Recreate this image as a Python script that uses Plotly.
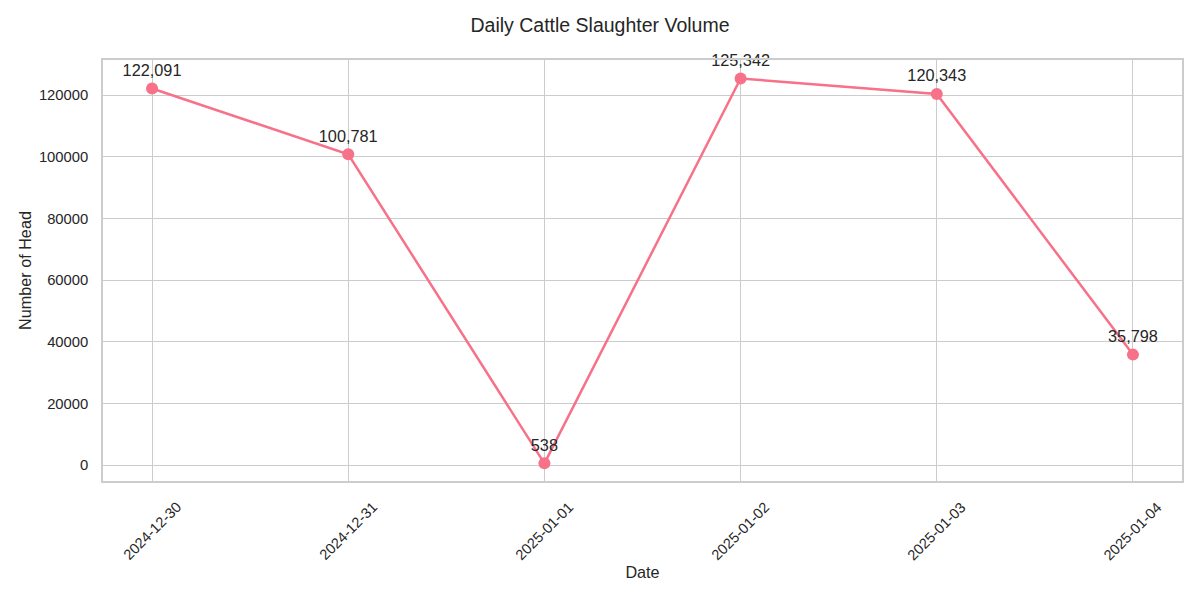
import plotly.graph_objects as go

dates = ["2024-12-30", "2024-12-31", "2025-01-01", "2025-01-02", "2025-01-03", "2025-01-04"]
head_counts = [122091, 100781, 538, 125342, 120343, 35798]
y_ticks = [0, 20000, 40000, 60000, 80000, 100000, 120000]

line_color = "#f77189"
grid = "#cccccc"
text_color = "#262626"
font_family = "Liberation Sans, Arial, sans-serif"

fig = go.Figure()
fig.add_trace(go.Scatter(
    x=dates, y=head_counts,
    mode="lines+markers+text",
    line=dict(color=line_color, width=2.5),
    marker=dict(color=line_color, size=12),
    texttemplate="%{y:,}",
    textposition="top center",
    textfont=dict(size=16.3, color=text_color, family=font_family),
    cliponaxis=False,
    showlegend=False,
))

# rotated date labels, centred under each tick (matplotlib style)
for d in dates:
    fig.add_annotation(
        x=d, y=0, xref="x", yref="paper",
        text=d, textangle=-45, showarrow=False,
        xanchor="center", yanchor="top", yshift=-15,
        font=dict(size=14.6, color=text_color, family=font_family),
    )

fig.update_layout(
    width=1200, height=600,
    paper_bgcolor="white", plot_bgcolor="white",
    margin=dict(l=103, r=18, t=60, b=119, autoexpand=False),
    font=dict(family=font_family, color=text_color, size=14),
    title=dict(text="Daily Cattle Slaughter Volume", x=0.5, xanchor="center",
               y=1 - 25 / 600, yanchor="middle", font=dict(size=19.5, color=text_color)),
)
fig.update_xaxes(
    type="date", range=["2024-12-29 18:00", "2025-01-04 06:00"],
    tickvals=dates, showticklabels=False, automargin=False,
    showgrid=True, gridcolor=grid, gridwidth=1,
    showline=True, linecolor=grid, linewidth=1.5, mirror=True,
    zeroline=False, ticks="",
    title=dict(text="Date", font=dict(size=16.2), standoff=85),
)
fig.update_yaxes(
    range=[-5190, 131350], automargin=False,
    tickvals=y_ticks, ticktext=[str(v) for v in y_ticks],
    showgrid=True, gridcolor=grid, gridwidth=1,
    showline=True, linecolor=grid, linewidth=1.5, mirror=True,
    zeroline=False, ticks="", ticklabelstandoff=10,
    title=dict(text="Number of Head", font=dict(size=16.2), standoff=3),
    tickfont=dict(size=14.8),
)

fig.write_html("out.html", config={"displayModeBar": False},
               post_script="document.body.style.margin='0';")
